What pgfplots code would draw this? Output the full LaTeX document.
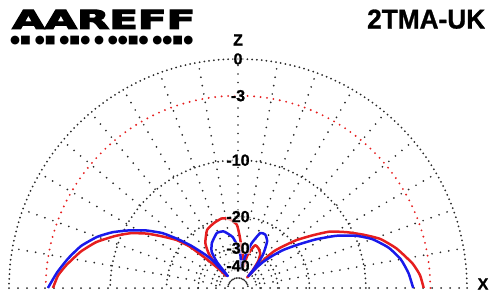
\documentclass[border=0pt]{standalone}
\usepackage{pgfplots}
\pgfplotsset{compat=1.18}
\usepackage{pgfplotstable}
\usepackage{graphicx}
\usepackage{fontspec}
\setmainfont{Liberation Sans}
\newfontfamily\dejavu{DejaVu Sans}
\newfontfamily\logofont[BoldFeatures={FakeBold=4}]{DejaVu Sans}
\newfontfamily\labfont[BoldFeatures={FakeBold=1}]{Liberation Sans}

\definecolor{pblue}{RGB}{25,25,235}
\definecolor{pred}{RGB}{230,30,30}
\definecolor{gdot}{RGB}{40,40,40}

% elevation angle (deg) and relative gain (dB), ARRL log scale
\pgfplotstableread{
ang db
0 -4.6
5 -5.0
10 -5.6
15 -6.6
20 -8.1
24 -9.9
28 -12.4
32 -15.7
36 -19.5
40 -23.2
43 -27
46 -31.5
48 -37
49 -46
50 -38
53 -29.4
58 -24.5
63 -23.0
68 -23.2
73 -27.2
77 -33
80 -42
83 -38
86 -33
90 -29.5
96 -25.7
104 -23.5
111 -23.3
120 -25.4
126 -28
129 -33
130.5 -46
131.5 -40
133 -30
135 -26.5
138 -22
141 -18.5
144 -15.4
148 -12.8
152 -10.7
156 -8.8
160 -7.3
165 -5.9
170 -4.9
175 -4.0
180 -3.2
}\bluedata

\pgfplotstableread{
ang db
0 -3.6
4 -3.9
8 -4.5
14 -5.8
19 -7.2
23 -8.9
27 -10.7
31.5 -12.9
35 -15.6
39.3 -19.0
43 -22.8
45.5 -25.5
47 -29
48 -36
49 -48
50 -40
53 -33
57 -29.6
63 -28
68 -27.5
71 -29.8
74 -33
77 -42
80 -35
84 -30.8
88 -25.7
91 -22.1
97 -20.5
103 -20
110 -20.5
118 -21.4
126 -24.3
130 -27.5
132 -31
133.5 -45
135 -38
136.8 -30.6
139.3 -22.1
142 -18.5
145.5 -15.9
149 -13.3
153 -11
157 -9.3
162 -7.4
167 -6.0
172.4 -4.8
176 -4.1
180 -3.66
}\reddata

\begin{document}
\begin{tikzpicture}
\path[use as bounding box] (0pt,0pt) rectangle (500pt,298pt);

% polar grid
\begin{scope}[shift={(238pt,10pt)}]
  \foreach \r in {229,127.8,71.4,39.8,22.2} {
    \draw[gdot, line width=2pt, line cap=round, dash pattern=on 0pt off 4.8pt]
      (\r pt,0pt) arc[start angle=0, end angle=180, radius=\r pt];
  }
  \draw[pred, line width=2.1pt, line cap=round, dash pattern=on 0pt off 6.5pt]
      (192.3pt,0pt) arc[start angle=0, end angle=180, radius=192.3pt];
  \foreach \a in {10,20,...,170} {
    \draw[gdot, line width=1.9pt, line cap=round, dash pattern=on 0pt off 8.5pt]
      (\a:10pt) -- (\a:229pt);
  }
  \draw[gdot, line width=2pt, line cap=round, dash pattern=on 0pt off 9pt]
      (-229pt,0pt) -- (229pt,0pt);
\end{scope}

\begin{axis}[
  at={(9pt,10pt)}, anchor=south west,
  x=229pt, y=229pt,
  xmin=-1, xmax=1, ymin=0, ymax=1,
  hide axis, clip=false,
]
\addplot[pred, line width=2.5pt, smooth, tension=0.3, line join=round]
  table[x expr={exp(0.058266*\thisrow{db})*cos(\thisrow{ang})},
        y expr={exp(0.058266*\thisrow{db})*sin(\thisrow{ang})}] {\reddata};
\addplot[pblue, line width=2.5pt, smooth, tension=0.3, line join=round]
  table[x expr={exp(0.058266*\thisrow{db})*cos(\thisrow{ang})},
        y expr={exp(0.058266*\thisrow{db})*sin(\thisrow{ang})}] {\bluedata};
\end{axis}

% ring labels
\begin{scope}[shift={(238pt,10pt)}]
  \foreach \r/\t in {229/0, 192.3/-3, 127.8/-10, 71.4/-20, 39.8/-30, 22.2/-40} {
    \node[font=\labfont\fontsize{16}{16}\selectfont\bfseries, text=black, inner sep=0.6pt,
          fill=white, fill opacity=0.6, text opacity=1] at (0pt,\r pt) {\t};
  }
\end{scope}

% axis letters
\node[font=\labfont\fontsize{16}{16}\selectfont\bfseries] at (238pt,258pt) {Z};
\node[font=\labfont\fontsize{16}{16}\selectfont\bfseries] at (483pt,14pt) {X};

% titles
\node[anchor=south west, inner sep=0pt] at (12pt,269pt)
  {\resizebox{183pt}{19pt}{\logofont\bfseries AAREFF}};
\node[anchor=south west, inner sep=0pt] at (10pt,253pt)
  {\resizebox{183pt}{!}{\dejavu ●■\,\,●■\,\,●■●\,\,●\,\,●●■●\,\,●●■●}};
\node[anchor=south west, inner sep=0pt] at (367pt,269pt)
  {\resizebox{118pt}{19pt}{\labfont\bfseries 2TMA-UK}};
\end{tikzpicture}
\end{document}
